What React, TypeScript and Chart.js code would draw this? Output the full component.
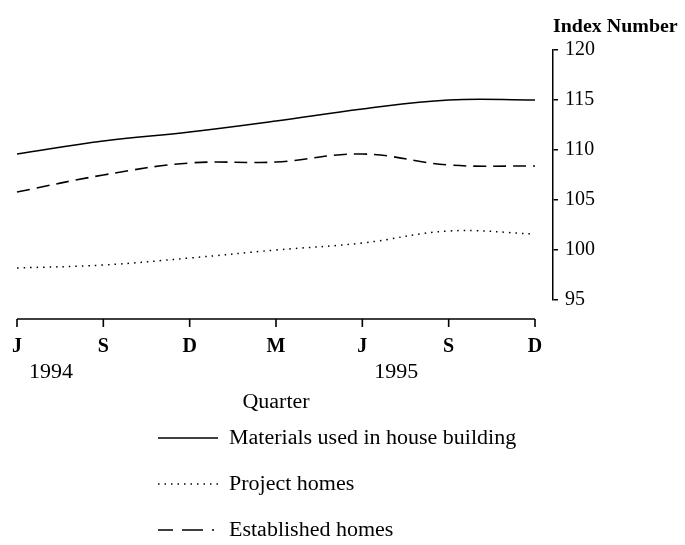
import React, { useEffect, useRef } from 'react';
import { Chart, registerables } from 'chart.js';

Chart.register(...registerables);

// ---- data ----
const quarters = ['J', 'S', 'D', 'M', 'J', 'S', 'D'];
const yearLabels = ['1994', '', '', '', '1995', '', ''];
const materials = [109.6, 110.9, 111.8, 112.9, 114.1, 115.0, 115.0];
const projectHomes = [98.2, 98.5, 99.2, 100.0, 100.7, 101.9, 101.6];
const establishedHomes = [105.8, 107.5, 108.7, 108.8, 109.6, 108.5, 108.4];
const yTicks = [95, 100, 105, 110, 115, 120];
const seriesNames = ['Materials used in house building', 'Project homes', 'Established homes'];
const yAxisTitle = 'Index Number';
const xAxisTitle = 'Quarter';

const FONT = '"Liberation Serif", "Times New Roman", serif';

const toPoints = (arr: number[]) => arr.map((v, i) => ({ x: i, y: v }));

function stretchedText(
  ctx: CanvasRenderingContext2D,
  text: string,
  x: number,
  y: number,
  sx: number,
  align: 'left' | 'center'
) {
  const w = ctx.measureText(text).width * sx;
  const left = align === 'center' ? x - w / 2 : x;
  ctx.save();
  ctx.textAlign = 'left';
  ctx.translate(left, y);
  ctx.scale(sx, 1);
  ctx.fillText(text, 0, 0);
  ctx.restore();
}

const decorPlugin = {
  id: 'decor',
  afterDraw(chart: any) {
    const ctx = chart.ctx as CanvasRenderingContext2D;
    const xs = chart.scales.x;
    const area = chart.chartArea;
    ctx.save();
    ctx.strokeStyle = '#000';
    ctx.fillStyle = '#000';

    // detached x axis line with downward ticks
    const axisY = area.bottom + 19;
    const x0 = xs.getPixelForValue(0);
    const x1 = xs.getPixelForValue(quarters.length - 1);
    ctx.lineWidth = 1.6;
    ctx.beginPath();
    ctx.moveTo(x0, axisY);
    ctx.lineTo(x1, axisY);
    quarters.forEach((_, i) => {
      const px = xs.getPixelForValue(i);
      ctx.moveTo(px, axisY);
      ctx.lineTo(px, axisY + 8);
    });
    ctx.stroke();

    // year labels
    ctx.font = `20px ${FONT}`;
    ctx.textBaseline = 'alphabetic';
    yearLabels.forEach((lab, i) => {
      if (!lab) return;
      stretchedText(ctx, lab, xs.getPixelForValue(i) + 34, area.bottom + 78, 1.1, 'center');
    });

    // x axis title
    stretchedText(ctx, xAxisTitle, (x0 + x1) / 2, area.bottom + 108, 1.1, 'center');

    // y axis title
    ctx.font = `bold 19px ${FONT}`;
    stretchedText(ctx, yAxisTitle, area.right, area.top - 18, 1.05, 'left');

    // legend
    const legX0 = x0 + 141;
    const legX1 = legX0 + 60;
    const rowBase = area.bottom + 144;
    const rowGap = 46;
    ctx.font = `20px ${FONT}`;
    chart.data.datasets.forEach((ds: any, i: number) => {
      const base = rowBase + i * rowGap;
      ctx.save();
      ctx.lineWidth = ds.borderWidth;
      ctx.setLineDash(ds.legendDash || ds.borderDash || []);
      ctx.beginPath();
      ctx.moveTo(legX0, base - 6);
      ctx.lineTo(legX1, base - 6);
      ctx.stroke();
      ctx.restore();
      stretchedText(ctx, ds.label, legX1 + 11, base, 1.1, 'left');
    });

    ctx.restore();
  },
};

export default function App() {
  const canvasRef = useRef<HTMLCanvasElement | null>(null);

  useEffect(() => {
    if (!canvasRef.current) return;
    const chart = new Chart(canvasRef.current, {
      type: 'line',
      data: {
        datasets: [
          {
            label: seriesNames[0],
            data: toPoints(materials),
            borderColor: '#000',
            borderWidth: 1.6,
            tension: 0.4,
            pointRadius: 0,
            clip: false,
            fill: false,
          },
          {
            label: seriesNames[1],
            data: toPoints(projectHomes),
            borderColor: '#000',
            borderWidth: 1.5,
            borderDash: [1.5, 5],
            tension: 0.4,
            pointRadius: 0,
            clip: false,
            fill: false,
          },
          {
            label: seriesNames[2],
            data: toPoints(establishedHomes),
            borderColor: '#000',
            borderWidth: 1.6,
            borderDash: [13, 7],
            legendDash: [15, 9, 21, 9, 2, 100],
            tension: 0.4,
            pointRadius: 0,
            clip: false,
            fill: false,
          } as any,
        ],
      },
      options: {
        animation: false,
        responsive: true,
        maintainAspectRatio: false,
        layout: { padding: { left: 17, right: 0, top: 50, bottom: 185 } },
        plugins: {
          legend: { display: false },
          tooltip: { enabled: false },
          title: { display: false },
        },
        scales: {
          x: {
            type: 'linear',
            min: 0,
            max: 6.2085,
            offset: false,
            grid: { display: false, drawTicks: false },
            border: { display: false },
            afterBuildTicks: (scale: any) => {
              scale.ticks = quarters.map((_, i) => ({ value: i }));
            },
            afterFit: (scale: any) => {
              scale.height = 60;
              scale.paddingLeft = 0;
              scale.paddingRight = 0;
            },
            ticks: {
              autoSkip: false,
              maxRotation: 0,
              padding: 35,
              color: '#000',
              font: { family: FONT, size: 20, weight: 'bold' },
              callback: (v: any) => quarters[Math.round(Number(v))] ?? '',
            },
          },
          y: {
            type: 'linear',
            position: 'right',
            min: 95,
            max: 120,
            grid: {
              display: true,
              drawOnChartArea: false,
              drawTicks: true,
              tickLength: 5,
              color: '#000',
              lineWidth: 1.5,
            },
            border: { display: true, color: '#000', width: 1.5 },
            afterBuildTicks: (scale: any) => {
              scale.ticks = yTicks.map((v) => ({ value: v }));
            },
            afterFit: (scale: any) => {
              scale.width = 132;
            },
            ticks: {
              padding: 7,
              color: '#000',
              font: { family: FONT, size: 20 },
            },
          },
        },
      },
      plugins: [decorPlugin],
    });
    return () => chart.destroy();
  }, []);

  return (
    <div style={{ position: 'absolute', left: 0, top: 0, width: 685, height: 545, background: '#fff' }}>
      <canvas ref={canvasRef} />
    </div>
  );
}
